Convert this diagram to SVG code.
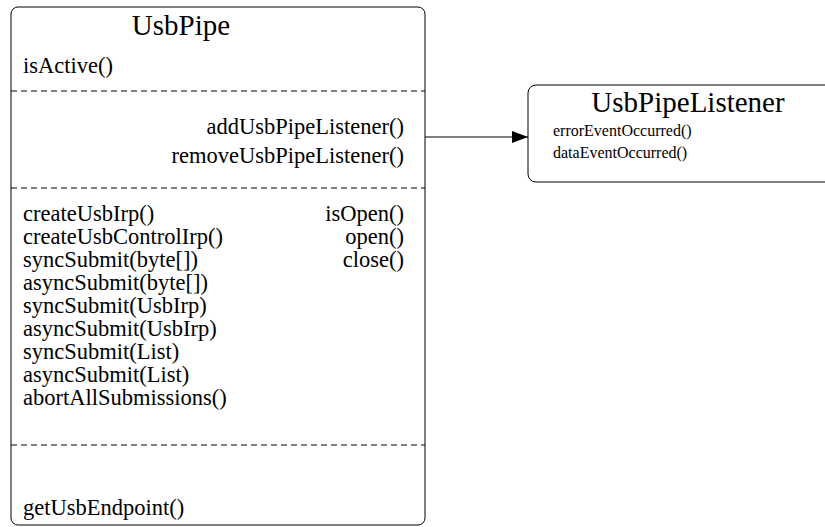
<svg xmlns="http://www.w3.org/2000/svg" width="825" height="527" viewBox="0 0 825 527">
<defs>
<style>
.box{fill:#fff;stroke:#000;stroke-width:1}
.sep{stroke:#000;stroke-width:1;stroke-dasharray:6,4;fill:none}
.t{fill:#000}
.title{font-size:29px;text-anchor:middle}
.m{font-size:22.5px}
.r{text-anchor:end}
.s{font-size:16px}
.edge{stroke:#000;stroke-width:1;fill:none}
</style>
<marker id="arr" markerWidth="16" markerHeight="12" refX="16" refY="6" orient="auto" markerUnits="userSpaceOnUse">
<path d="M0,0 L16,6 L0,12 Z" fill="#000"/>
</marker>
</defs>
<rect width="825" height="527" fill="#fff"/>
<g id="connectors">
<path class="edge" d="M425,137 L528,137" marker-end="url(#arr)"/>
</g>
<g id="UsbPipe" font-family="Liberation Serif, Times New Roman, serif">
<rect class="box" x="11" y="7" width="414" height="518" rx="7"/>
<text class="t title" x="181" y="35">UsbPipe</text>
<text class="t m" x="23" y="73">isActive()</text>
<line class="sep" x1="11" y1="91" x2="425" y2="91"/>
<text class="t m r" x="404" y="134">addUsbPipeListener()</text>
<text class="t m r" x="404" y="163">removeUsbPipeListener()</text>
<line class="sep" x1="11" y1="188" x2="425" y2="188"/>
<text class="t m" x="23" y="221">createUsbIrp()</text>
<text class="t m" x="23" y="244">createUsbControlIrp()</text>
<text class="t m" x="23" y="267">syncSubmit(byte[])</text>
<text class="t m" x="23" y="290">asyncSubmit(byte[])</text>
<text class="t m" x="23" y="313">syncSubmit(UsbIrp)</text>
<text class="t m" x="23" y="336">asyncSubmit(UsbIrp)</text>
<text class="t m" x="23" y="359">syncSubmit(List)</text>
<text class="t m" x="23" y="382">asyncSubmit(List)</text>
<text class="t m" x="23" y="405">abortAllSubmissions()</text>
<text class="t m r" x="404" y="221">isOpen()</text>
<text class="t m r" x="404" y="244">open()</text>
<text class="t m r" x="404" y="267">close()</text>
<line class="sep" x1="11" y1="445" x2="425" y2="445"/>
<text class="t m" x="23" y="515">getUsbEndpoint()</text>
</g>
<g id="UsbPipeListener" font-family="Liberation Serif, Times New Roman, serif">
<rect class="box" x="528" y="85" width="320" height="97" rx="8"/>
<text class="t title" x="688" y="112">UsbPipeListener</text>
<text class="t s" x="553" y="136">errorEventOccurred()</text>
<text class="t s" x="553" y="158">dataEventOccurred()</text>
</g>
</svg>
